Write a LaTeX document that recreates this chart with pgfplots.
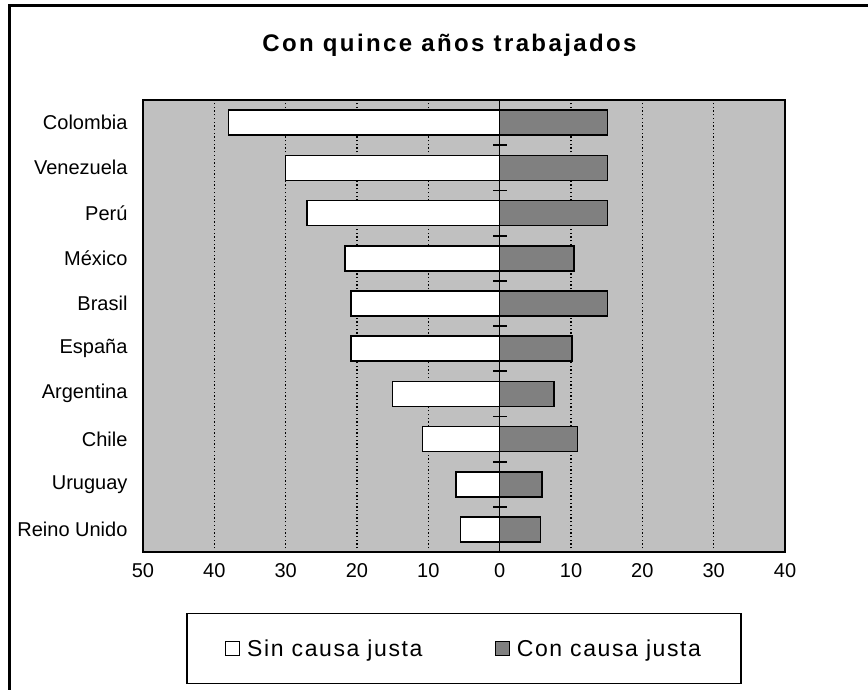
\documentclass[border=0pt]{standalone}
\usepackage{pgfplots}
\pgfplotsset{compat=1.18}
\usepackage{fontspec}
\setmainfont{Liberation Sans}
\newfontfamily\titlefont[LetterSpace=10]{Liberation Sans}
\newfontfamily\legfont[LetterSpace=7]{Liberation Sans}
\definecolor{bg}{RGB}{192,192,192}
\definecolor{dk}{RGB}{128,128,128}
\begin{document}
\begin{tikzpicture}
\useasboundingbox (0pt,0pt) rectangle (868pt,-690pt);
\draw[line width=3pt] (9pt,-690pt) -- (9pt,-6pt) -- (868pt,-6pt);
\node[font=\titlefont\bfseries\fontsize{24}{28}\selectfont] at (449.5pt,-45pt) {Con quince años trabajados};
\begin{axis}[at={(143pt,-552pt)}, anchor=south west, scale only axis,
  width=642pt, height=452pt,
  xmin=-50, xmax=40, ymin=-0.5, ymax=9.5,
  axis background/.style={fill=bg},
  axis line style={line width=1.6pt},
  xtick={-50,-40,...,40}, xticklabels={50,40,30,20,10,0,10,20,30,40},
  ytick={0,...,9},
  yticklabels={Reino Unido,Uruguay,Chile,Argentina,España,Brasil,México,Perú,Venezuela,Colombia},
  major tick length=0pt,
  xmajorgrids, grid style={black, line width=1.3pt, dash pattern=on 1.3pt off 2.4pt},
  tick label style={font=\fontsize{20}{24}\selectfont},
  xticklabel style={yshift=-8pt}, yticklabel style={xshift=-12pt},
  legend columns=2,
  legend style={at={(axis description cs:0.5,-0.2135)}, anchor=center,
    draw=black, line width=1.5pt, inner xsep=38pt, inner ysep=24pt,
    font=\legfont\fontsize{23}{27}\selectfont,
    /tikz/every odd column/.append style={column sep=5pt},
    /tikz/every even column/.append style={column sep=70pt}},
  legend image code/.code={\draw[#1, draw=black, line width=1.3pt] (0pt,-7pt) rectangle (14pt,7pt);},
]
\addplot[xbar, bar width=25pt, bar shift=0pt, fill=white, draw=black, line width=1.6pt]
  coordinates {(-5.5,0) (-6.1,1) (-10.8,2) (-15,3) (-20.8,4) (-20.8,5) (-21.7,6) (-27,7) (-30,8) (-38,9)};
\addlegendentry{Sin causa justa}
\addplot[xbar, bar width=25pt, bar shift=0pt, fill=dk, draw=black, line width=1.6pt]
  coordinates {(5.7,0) (5.9,1) (10.9,2) (7.6,3) (10.1,4) (15.1,5) (10.4,6) (15.1,7) (15.1,8) (15.1,9)};
\addlegendentry{Con causa justa}
\draw[line width=1.6pt] (axis cs:0,-0.5) -- (axis cs:0,9.5);
\addplot[only marks, mark=-, mark size=7pt, mark options={line width=1.8pt}, forget plot]
  coordinates {(0,0.5) (0,1.5) (0,2.5) (0,3.5) (0,4.5) (0,5.5) (0,6.5) (0,7.5) (0,8.5) (0,9.5)};
\end{axis}
\end{tikzpicture}
\end{document}
